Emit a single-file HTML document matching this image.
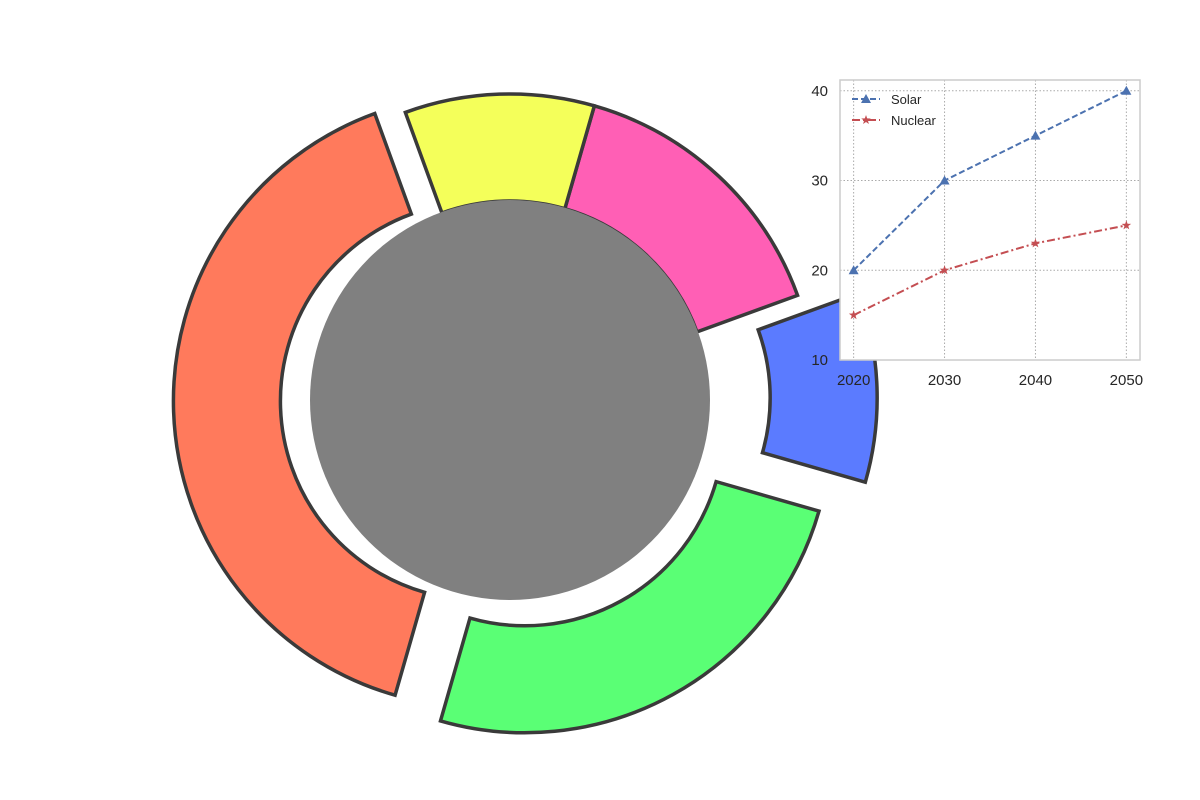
<!DOCTYPE html>
<html><head><meta charset="utf-8"><style>
body{margin:0;background:#fff}
svg{display:block;font-family:"Liberation Sans","DejaVu Sans",sans-serif}
</style></head><body>
<svg id="c" width="1200" height="800" viewBox="0 0 1200 800">
<g id="pie"></g>
<circle cx="510" cy="400" r="200" fill="#808080"/>
<g id="inset"></g>
</svg>
<script>
const pieLabels=["Blue","Pink","Yellow","Orange","Green"];
const pieValues=[10,15,10,40,25];
const pieColors=["#5b7bff","#ff5fb5","#f4ff5a","#ff7a5c","#5aff75"];
const pieExplode=[0.2,0,0,0.1,0.1];
const years=[2020,2030,2040,2050];
const solar=[20,30,35,40];
const nuclear=[15,20,23,25];
const yTicks=[10,20,30,40];
const xTicks=[2020,2030,2040,2050];

const NS="http://www.w3.org/2000/svg";
function mk(t,a,p){const e=document.createElementNS(NS,t);for(const k in a)e.setAttribute(k,a[k]);p.appendChild(e);return e;}
const pie=document.getElementById('pie');
const cx=510,cy=400,R=306,r=199,start=-16;
const tot=pieValues.reduce((a,b)=>a+b,0);
let ang=start;
pieValues.forEach((v,i)=>{
  const span=v/tot*360,a0=ang,a1=ang+span,mid=(a0+a1)/2;ang=a1;
  const ox=cx+pieExplode[i]*R*Math.cos(mid*Math.PI/180),oy=cy-pieExplode[i]*R*Math.sin(mid*Math.PI/180);
  const P=(rad,a)=>[ox+rad*Math.cos(a*Math.PI/180),oy-rad*Math.sin(a*Math.PI/180)];
  const p1=P(R,a0),p2=P(R,a1),p3=P(r,a1),p4=P(r,a0),lg=span>180?1:0;
  const d=`M${p1}A${R},${R} 0 ${lg} 0 ${p2}L${p3}A${r},${r} 0 ${lg} 1 ${p4}Z`;
  const e=mk('path',{d:d,fill:pieColors[i],stroke:'#3a3a3a','stroke-width':3.5,'stroke-linejoin':'miter'},pie);
  
  
});
const g=document.getElementById('inset');
const L=840,T=80,W=300,H=280,xmin=2018.5,xmax=2051.5,ymin=10,ymax=41.2;
const X=v=>L+(v-xmin)/(xmax-xmin)*W, Y=v=>T+H-(v-ymin)/(ymax-ymin)*H;
mk('rect',{x:L,y:T,width:W,height:H,fill:'#fff'},g);
xTicks.forEach(t=>{
  const l=mk('line',{x1:X(t),x2:X(t),y1:T,y2:T+H,stroke:'#aaa','stroke-dasharray':'1.5,2','stroke-width':1},g);
  
  const tx=mk('text',{x:X(t),y:T+H+25,'text-anchor':'middle','font-size':15,fill:'#262626'},g);tx.textContent=t;
  
});
yTicks.forEach(t=>{
  const l=mk('line',{x1:L,x2:L+W,y1:Y(t),y2:Y(t),stroke:'#aaa','stroke-dasharray':'1.5,2','stroke-width':1},g);
  
  const tx=mk('text',{x:L-12,y:Y(t)+5,'text-anchor':'end','font-size':15,fill:'#262626'},g);tx.textContent=t;
  
});
const fr=mk('rect',{x:L,y:T,width:W,height:H,fill:'none',stroke:'#ccc','stroke-width':1.5},g);

function tri(x,y,c){return mk('path',{d:`M${x},${y-5}L${x+5},${y+4}L${x-5},${y+4}Z`,fill:c},g);}
function star(x,y,c){let d='';for(let k=0;k<10;k++){const rr=k%2?2:5,a=-Math.PI/2+k*Math.PI/5;d+=(k?'L':'M')+(x+rr*Math.cos(a))+','+(y+rr*Math.sin(a));}return mk('path',{d:d+'Z',fill:c},g);}
function series(vals,c,dash,mfn,name){
  const pl=mk('polyline',{points:years.map((y,i)=>X(y)+','+Y(vals[i])).join(' '),fill:'none',stroke:c,'stroke-width':2,'stroke-dasharray':dash},g);
  
  years.forEach((y,i)=>{const m=mfn(X(y),Y(vals[i]),c);});
}
series(solar,'#4c72b0','6,3',tri,'solar');
series(nuclear,'#c44e52','8,3,2,3',star,'nuclear');
const lg=[['Solar','#4c72b0','6,3',tri,99],['Nuclear','#c44e52','8,3,2,3',star,120]];
lg.forEach(([n,c,d,f,y])=>{
  const l=mk('line',{x1:852,x2:880,y1:y,y2:y,stroke:c,'stroke-width':2,'stroke-dasharray':d},g);
  
  const m=f(866,y,c);
  const t=mk('text',{x:891,y:y+5,'font-size':13,fill:'#262626'},g);t.textContent=n;
  
});
</script>
</body></html>
